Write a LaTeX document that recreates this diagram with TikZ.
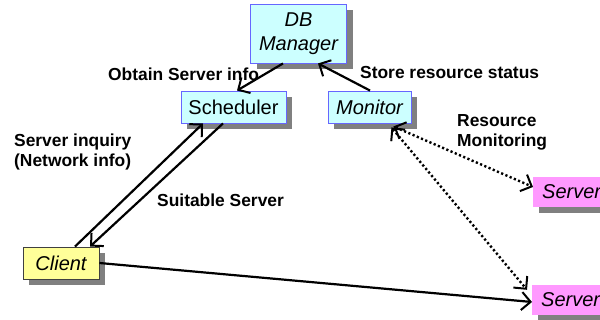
\documentclass[tikz,border=0pt]{standalone}
\usepackage{fontspec}
\setmainfont{Liberation Sans}
\usetikzlibrary{arrows.meta,shadows}
\definecolor{cyanfill}{HTML}{CCFFFF}
\definecolor{boxblue}{HTML}{6666FF}
\definecolor{yelfill}{HTML}{FFFF99}
\definecolor{pinkfill}{HTML}{FF99FF}
\definecolor{shadowgray}{HTML}{808080}
\begin{document}
\begin{tikzpicture}[x=1pt,y=-1pt,
  shad/.style={drop shadow={shadow xshift=6pt,shadow yshift=-6pt,fill=shadowgray,opacity=1}},
  box/.style={shad,draw=boxblue,line width=0.9pt,fill=cyanfill,inner sep=0pt,
    font=\fontsize{20}{24}\selectfont,align=center},
  clientbox/.style={shad,draw=black!75,line width=0.9pt,fill=yelfill,inner sep=0pt,
    font=\fontsize{20}{24}\selectfont\itshape},
  serverbox/.style={shad,fill=pinkfill,inner ysep=0pt,inner xsep=9pt,minimum height=30pt,
    anchor=west,font=\fontsize{20}{24}\selectfont\itshape},
  lbl/.style={font=\bfseries\fontsize{17.4}{20}\selectfont,anchor=west,align=left,inner sep=0pt},
  conn/.style={line width=2.2pt,-{Straight Barb[length=9pt,width=18pt,line width=2pt]}},
  dconn/.style={line width=2.4pt,dash pattern=on 2.2pt off 2.4pt,
    {Straight Barb[length=9pt,width=18pt,line width=2pt]}-{Straight Barb[length=9pt,width=18pt,line width=2pt]}}
]
\useasboundingbox (0,0) rectangle (600,320);
\fill[white] (0,0) rectangle (600,320);

\node[box,minimum width=96pt,minimum height=59pt] (db) at (298.5,33.5) {\itshape DB\\\itshape Manager};
\node[box,minimum width=105pt,minimum height=32pt] (sch) at (233.5,107) {Scheduler};
\node[box,minimum width=83pt,minimum height=32pt] (mon) at (369.5,107) {\itshape Monitor};
\node[clientbox,minimum width=76pt,minimum height=32pt] (cl) at (61,263) {Client};
\node[serverbox] (sv1) at (533,192) {Server};
\node[serverbox] (sv2) at (532,300) {Server};

\node[lbl] (l1) at (108,74) {Obtain Server info};
\node[lbl] (l2) at (360,73) {Store resource status};
\node[lbl] (l3) at (14,152) {Server inquiry\\(Network info)};
\node[lbl] (l4) at (157,200) {Suitable Server};
\node[lbl] (l5) at (457,132) {Resource\\Monitoring};

\draw[conn] ([xshift=-15.5pt]db.south) -- ([xshift=3.5pt]sch.north);
\draw[conn] ([xshift=0.5pt]mon.north) -- ([xshift=19.5pt]db.south);
\draw[conn] ([xshift=14pt]cl.north) -- ([xshift=-30.5pt]sch.south);
\draw[conn] ([xshift=-10.5pt]sch.south) -- ([xshift=29pt]cl.north);
\draw[conn] (cl.east) -- ([yshift=-2pt]sv2.west);
\draw[dconn] ([xshift=-18pt,yshift=-3pt]mon.south east) -- ([yshift=5pt]sv1.west);
\draw[dconn] ([xshift=-20pt,yshift=-4pt]mon.south east) -- ([xshift=-5pt,yshift=-5pt]sv2.north west);
\end{tikzpicture}
\end{document}
